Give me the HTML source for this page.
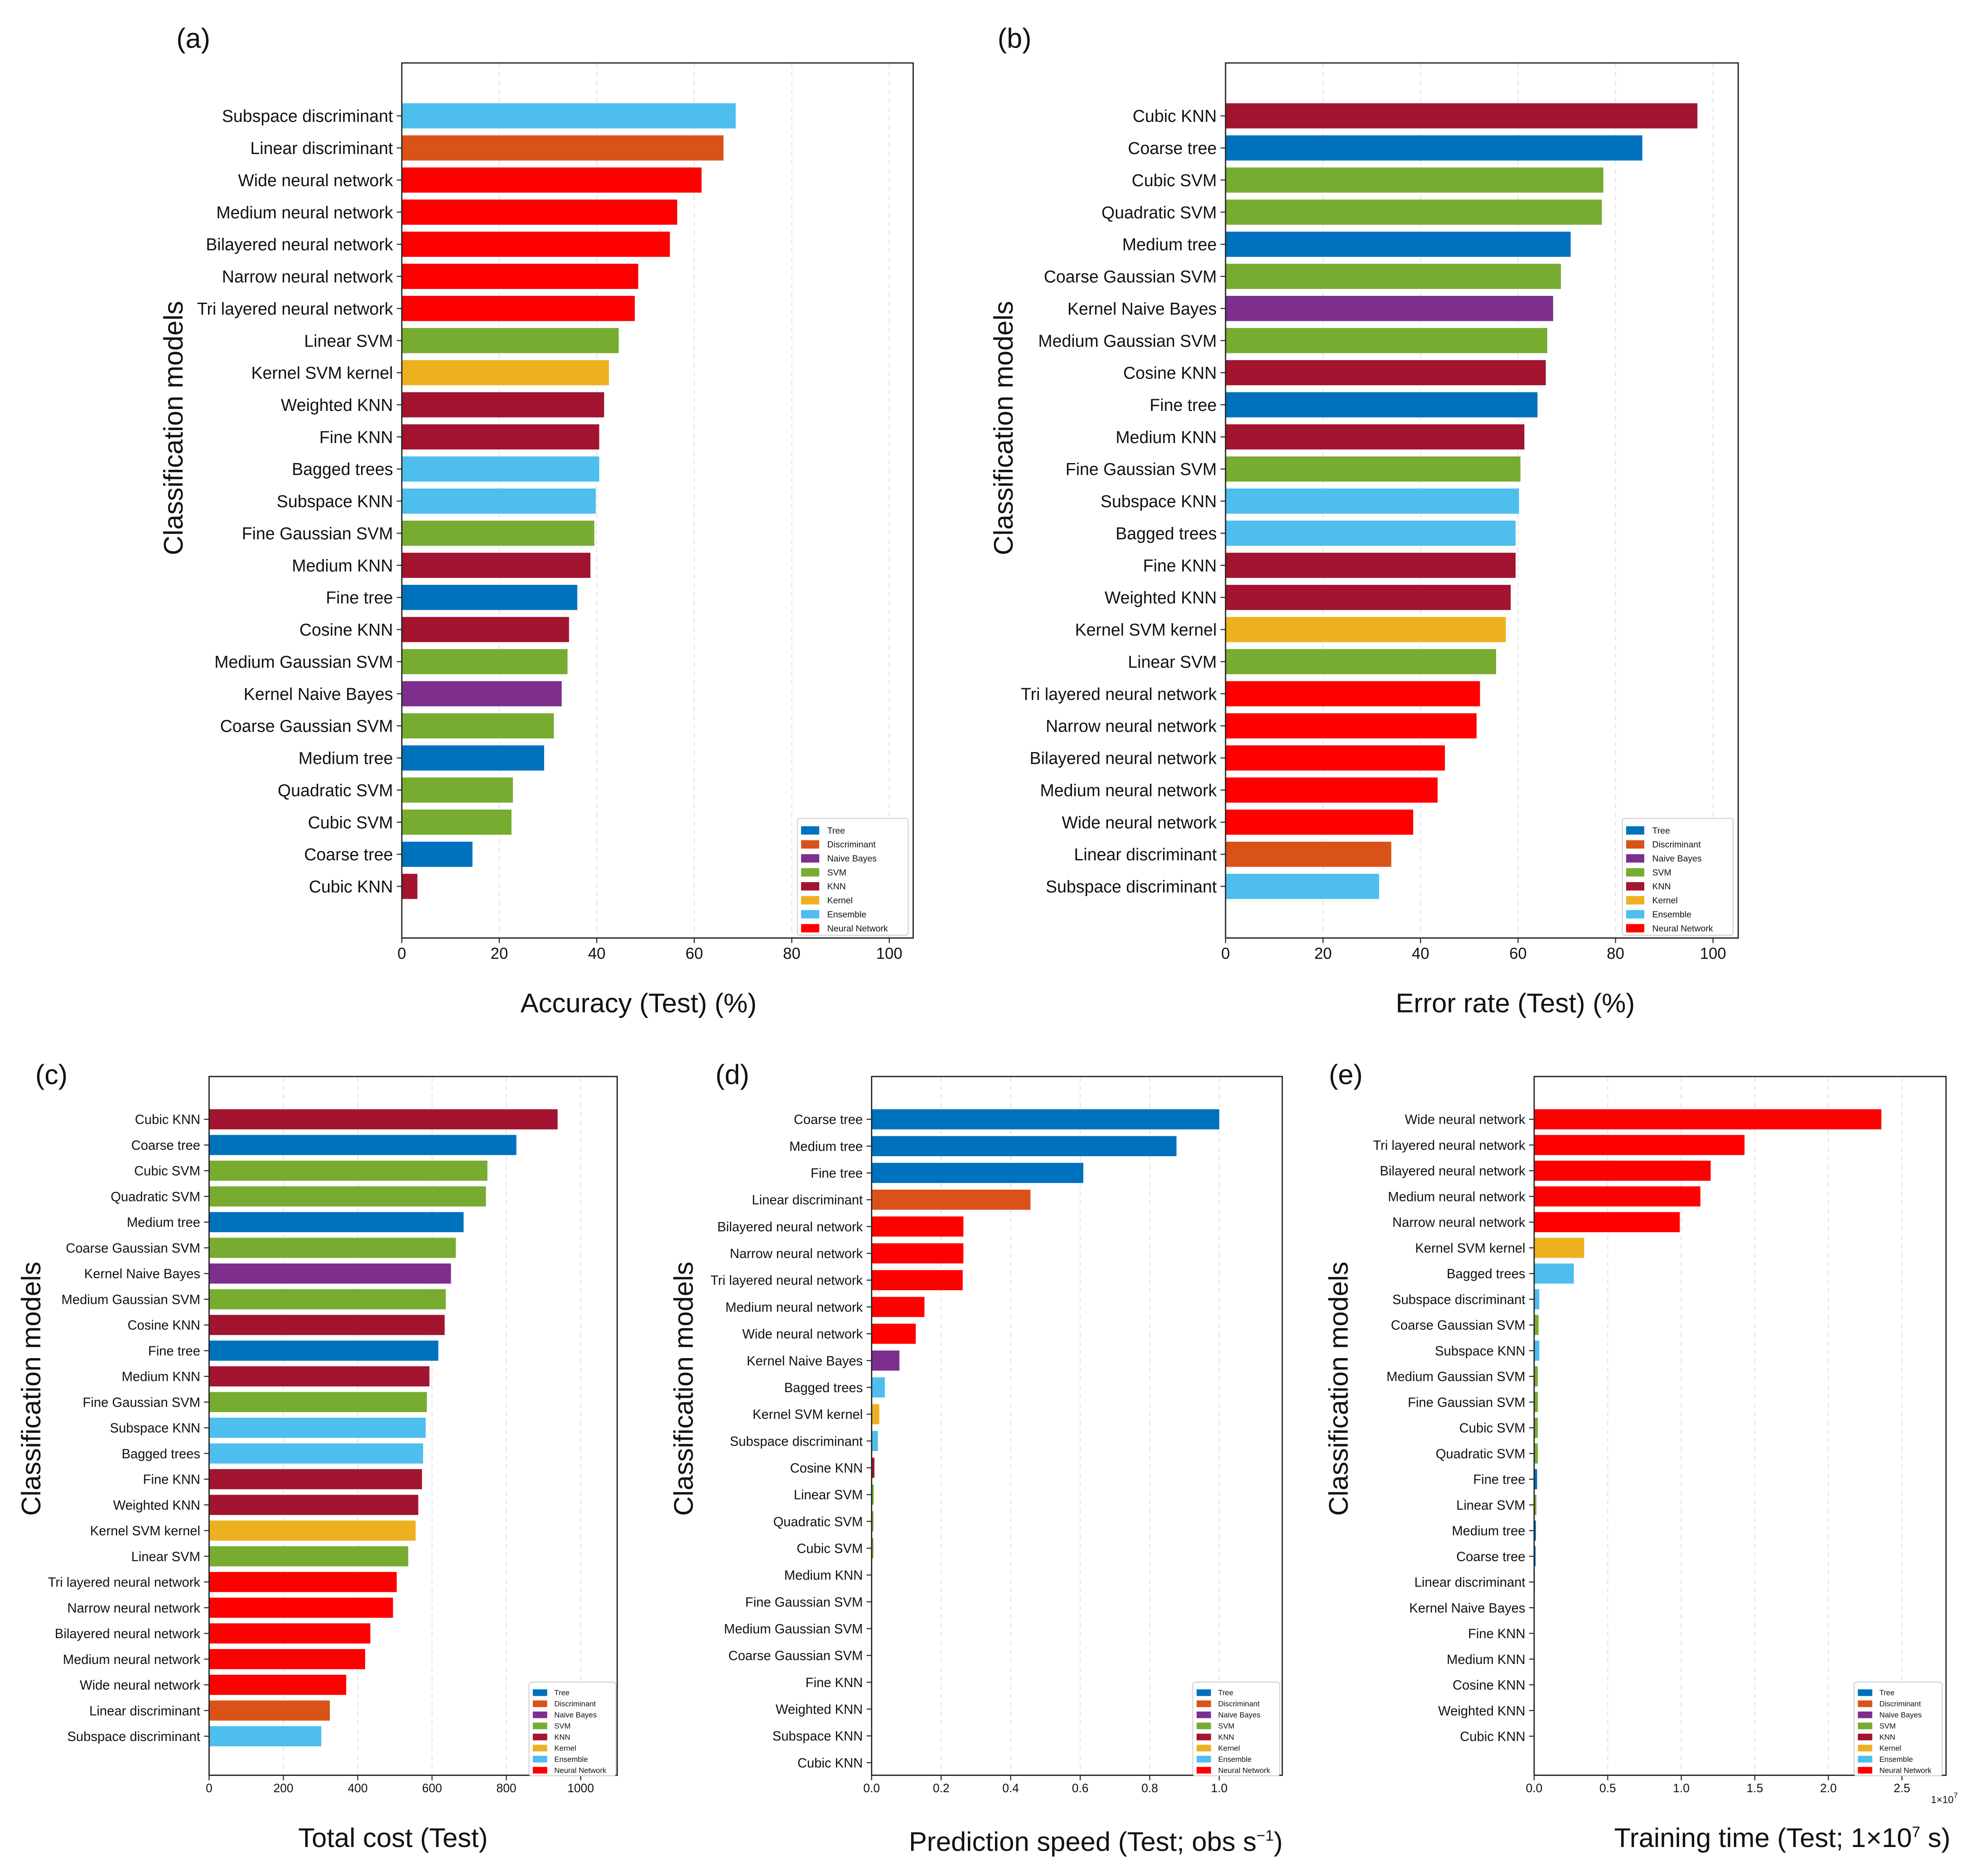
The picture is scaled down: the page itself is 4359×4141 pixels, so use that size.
<!DOCTYPE html>
<html><head><meta charset="utf-8"><style>html,body{margin:0;padding:0;background:#fff}svg{display:block}</style></head>
<body>
<svg id="fig" xmlns="http://www.w3.org/2000/svg" width="4359" height="4141" viewBox="0 0 1568 1490" preserveAspectRatio="none" font-family="Liberation Sans, DejaVu Sans, sans-serif"></svg>
<script>
const COLORS={Tree:'#0072BD',Discriminant:'#D95319','Naive Bayes':'#7E2F8E',SVM:'#77AC30',KNN:'#A2142F',Kernel:'#EDB120',Ensemble:'#4DBEEE','Neural Network':'#FF0000'};
const legendLabels=['Tree','Discriminant','Naive Bayes','SVM','KNN','Kernel','Ensemble','Neural Network'];
function cat(n){
  if(/neural/.test(n))return 'Neural Network';
  if(n==='Subspace discriminant'||n==='Bagged trees'||n==='Subspace KNN')return 'Ensemble';
  if(/discriminant/.test(n))return 'Discriminant';
  if(n==='Kernel SVM kernel')return 'Kernel';
  if(/Naive/.test(n))return 'Naive Bayes';
  if(/SVM/.test(n))return 'SVM';
  if(/KNN/.test(n))return 'KNN';
  return 'Tree';
}
// ---- data ----
const aNames=['Subspace discriminant','Linear discriminant','Wide neural network','Medium neural network','Bilayered neural network','Narrow neural network','Tri layered neural network','Linear SVM','Kernel SVM kernel','Weighted KNN','Fine KNN','Bagged trees','Subspace KNN','Fine Gaussian SVM','Medium KNN','Fine tree','Cosine KNN','Medium Gaussian SVM','Kernel Naive Bayes','Coarse Gaussian SVM','Medium tree','Quadratic SVM','Cubic SVM','Coarse tree','Cubic KNN'];
const aValues=[68.5,66,61.5,56.5,55,48.5,47.8,44.5,42.5,41.5,40.5,40.5,39.8,39.5,38.7,36,34.3,34,32.8,31.2,29.2,22.8,22.5,14.5,3.2];
const bNames=['Cubic KNN','Coarse tree','Cubic SVM','Quadratic SVM','Medium tree','Coarse Gaussian SVM','Kernel Naive Bayes','Medium Gaussian SVM','Cosine KNN','Fine tree','Medium KNN','Fine Gaussian SVM','Subspace KNN','Bagged trees','Fine KNN','Weighted KNN','Kernel SVM kernel','Linear SVM','Tri layered neural network','Narrow neural network','Bilayered neural network','Medium neural network','Wide neural network','Linear discriminant','Subspace discriminant'];
const bValues=[96.8,85.5,77.5,77.2,70.8,68.8,67.2,66,65.7,64,61.3,60.5,60.2,59.5,59.5,58.5,57.5,55.5,52.2,51.5,45,43.5,38.5,34,31.5];
const cNames=bNames;
const cValues=[938,827,749,745,685,664,651,637,634,617,593,586,583,576,573,563,556,536,505,495,434,420,369,325,302];
const dNames=['Coarse tree','Medium tree','Fine tree','Linear discriminant','Bilayered neural network','Narrow neural network','Tri layered neural network','Medium neural network','Wide neural network','Kernel Naive Bayes','Bagged trees','Kernel SVM kernel','Subspace discriminant','Cosine KNN','Linear SVM','Quadratic SVM','Cubic SVM','Medium KNN','Fine Gaussian SVM','Medium Gaussian SVM','Coarse Gaussian SVM','Fine KNN','Weighted KNN','Subspace KNN','Cubic KNN'];
const dValues=[1.0,0.877,0.609,0.457,0.264,0.264,0.262,0.152,0.127,0.08,0.038,0.022,0.018,0.008,0.006,0.005,0.005,0.001,0.001,0.001,0.001,0.001,0.001,0.001,0.001];
const eNames=['Wide neural network','Tri layered neural network','Bilayered neural network','Medium neural network','Narrow neural network','Kernel SVM kernel','Bagged trees','Subspace discriminant','Coarse Gaussian SVM','Subspace KNN','Medium Gaussian SVM','Fine Gaussian SVM','Cubic SVM','Quadratic SVM','Fine tree','Linear SVM','Medium tree','Coarse tree','Linear discriminant','Kernel Naive Bayes','Fine KNN','Medium KNN','Cosine KNN','Weighted KNN','Cubic KNN'];
const eValues=[2.36,1.43,1.2,1.13,0.99,0.34,0.27,0.035,0.03,0.035,0.025,0.025,0.025,0.025,0.02,0.015,0.012,0.01,0.005,0.003,0.001,0.001,0.001,0.001,0.001];
const abTicks=['0','20','40','60','80','100'];
const cTicks=['0','200','400','600','800','1000'];
const dTicks=['0.0','0.2','0.4','0.6','0.8','1.0'];
const eTicks=['0.0','0.5','1.0','1.5','2.0','2.5'];

const NS='http://www.w3.org/2000/svg';
const svg=document.getElementById('fig');
function mk(tag,attrs,parent){const e=document.createElementNS(NS,tag);for(const k in attrs)e.setAttribute(k,attrs[k]);(parent||svg).appendChild(e);return e;}

function panel(o){
  const g=mk('g',{});
  
  
  const xs=v=>o.x0+(v-o.xmin)/(o.xmax-o.xmin)*(o.xAtMax-o.x0);
  const n=o.names.length;
  const ys=i=>o.yFirst+i*(o.yLast-o.yFirst)/(n-1);
  o.ticks.forEach(t=>{const X=xs(parseFloat(t));
    const gl=mk('line',{x1:X,x2:X,y1:o.top,y2:o.bottom,stroke:'#e4e4e4','stroke-width':0.8,'stroke-dasharray':'4,3'},g);
    
    
  });
  o.names.forEach((nm,i)=>{
    const r=mk('rect',{x:o.x0,y:ys(i)-o.bh/2,width:Math.max(0,xs(o.values[i])-o.x0),height:o.bh,fill:COLORS[cat(nm)]},g);
    
    
    mk('line',{x1:o.x0-4,x2:o.x0,y1:ys(i),y2:ys(i),stroke:'#222','stroke-width':0.8},g);
    const t=mk('text',{x:o.x0-7,y:ys(i)+o.fs*0.36,'font-size':o.fs,'text-anchor':'end',fill:'#111'},g);
    t.textContent=nm;
    
    
  });
  const fr=mk('rect',{x:o.x0,y:o.top,width:o.right-o.x0,height:o.bottom-o.top,fill:'none',stroke:'#222','stroke-width':1},g);
  
  
  o.ticks.forEach(t=>{const X=xs(parseFloat(t));
    mk('line',{x1:X,x2:X,y1:o.bottom,y2:o.bottom+4,stroke:'#222','stroke-width':0.8},g);
    const tx=mk('text',{x:X,y:o.bottom+4+o.tfs,'font-size':o.tfs,'text-anchor':'middle',fill:'#111'},g);
    tx.textContent=t;
    
    
  });
  if(o.mult){const m=mk('text',{x:o.right-12,y:o.bottom+22,'font-size':8,fill:'#111'},g);m.innerHTML='1×10<tspan dy="-4" font-size="6">7</tspan>';}
  const xl=mk('text',{x:o.xlx,y:o.xly,'font-size':o.lfs,'text-anchor':'middle',fill:'#111'},g);
  xl.innerHTML=o.xlabel;
  
  
  const yl=mk('text',{x:0,y:0,'font-size':o.lfs,'text-anchor':'middle',fill:'#111',transform:`translate(${o.ylx},${o.yly}) rotate(-90)`},g);
  yl.textContent='Classification models';
  
  
  const pl=mk('text',{x:o.plx,y:o.ply,'font-size':22,fill:'#111'},g);
  pl.textContent='('+o.id+')';
  
  
  const L=o.leg;
  const lg=mk('g',{},g);
  
  
  mk('rect',{x:L.x,y:L.y,width:L.w,height:L.sp*8+4,fill:'#fff',stroke:'#ccc','stroke-width':0.7,rx:2},lg);
  legendLabels.forEach((lab,i)=>{
    const cy=L.y+4+L.sp*(i+0.5);
    const sw=mk('rect',{x:L.x+3,y:cy-L.sp*0.3,width:L.sp*1.3,height:L.sp*0.6,fill:COLORS[lab]},lg);
    
    
    const lt=mk('text',{x:L.x+6+L.sp*1.6,y:cy+L.fs*0.35,'font-size':L.fs,fill:'#111'},lg);
    lt.textContent=lab;
    
    
  });
}
panel({id:'a',names:aNames,values:aValues,ticks:abTicks,xmin:0,xmax:100,x0:319,xAtMax:706,right:725,top:50,bottom:745,yFirst:92,yLast:704,bh:20,fs:13.5,tfs:12.5,lfs:21.5,xlabel:'Accuracy (Test) (%)',xlx:507,xly:804,ylx:145,yly:340,plx:140,ply:38,leg:{x:633,y:650,w:88,sp:11.1,fs:7}});
panel({id:'b',names:bNames,values:bValues,ticks:abTicks,xmin:0,xmax:100,x0:973,xAtMax:1360,right:1380,top:50,bottom:745,yFirst:92,yLast:704,bh:20,fs:13.5,tfs:12.5,lfs:21.5,xlabel:'Error rate (Test) (%)',xlx:1203,xly:804,ylx:804,yly:340,plx:792,ply:38,leg:{x:1288,y:650,w:88,sp:11.1,fs:7}});
panel({id:'c',names:cNames,values:cValues,ticks:cTicks,xmin:0,xmax:1000,x0:166,xAtMax:461,right:490,top:855,bottom:1410,yFirst:889,yLast:1379,bh:16,fs:10.5,tfs:9.5,lfs:21.5,xlabel:'Total cost (Test)',xlx:312,xly:1467,ylx:32,yly:1103,plx:28,ply:861,leg:{x:420,y:1336,w:69,sp:8.8,fs:6}});
panel({id:'d',names:dNames,values:dValues,ticks:dTicks,xmin:0,xmax:1,x0:692,xAtMax:968,right:1018,top:855,bottom:1410,yFirst:889,yLast:1400,bh:16,fs:10.5,tfs:9.5,lfs:21.5,xlabel:'Prediction speed (Test; obs s<tspan dy="-8" font-size="12">−1</tspan><tspan dy="8">)</tspan>',xlx:870,xly:1470,ylx:550,yly:1103,plx:568,ply:861,leg:{x:947,y:1336,w:69,sp:8.8,fs:6}});
panel({id:'e',names:eNames,values:eValues,ticks:eTicks,xmin:0,xmax:2.5,x0:1218,xAtMax:1510,right:1545,top:855,bottom:1410,yFirst:889,yLast:1379,bh:16,fs:10.5,tfs:9.5,lfs:21.5,mult:true,xlabel:'Training time (Test; 1×10<tspan dy="-8" font-size="12">7</tspan><tspan dy="8"> s)</tspan>',xlx:1415,xly:1467,ylx:1070,yly:1103,plx:1055,ply:861,leg:{x:1472,y:1336,w:70,sp:8.8,fs:6}});
</script>
</body></html>
